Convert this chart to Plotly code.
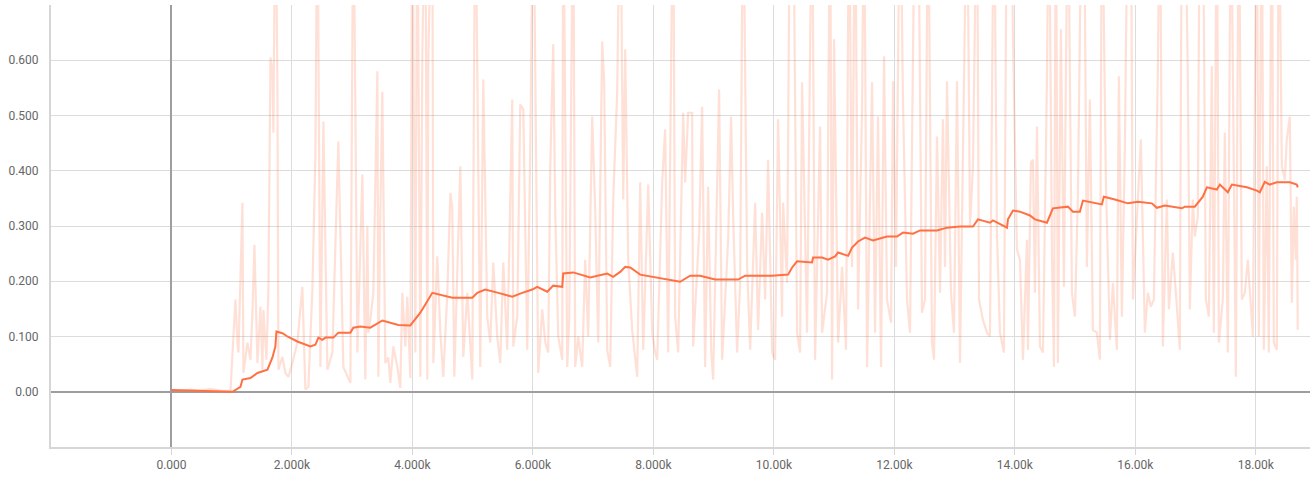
import plotly.graph_objects as go

# ---- raw (unsmoothed) series: training step / value ----
raw_steps = [0, 149, 315, 481, 647, 813, 979,
    1062, 1095, 1112, 1178, 1194, 1261, 1311, 1344, 1377, 1427, 1477, 1510, 1526, 1576, 1609, 1643, 1676, 1692, 1725, 1759, 1775, 1841, 1891, 1941, 2007, 2090, 2173, 2223, 2273, 2339, 2389, 2422, 2472, 2522, 2588, 2671, 2770, 2853, 2970, 3019, 3086, 3169, 3218, 3252, 3268,
    3301, 3351, 3418, 3434, 3467, 3500, 3550, 3600, 3633, 3683, 3749, 3799, 3832, 3882, 3915, 3965, 3998, 4048, 4081, 4131, 4164, 4214, 4247, 4264, 4330, 4347, 4413, 4463, 4512, 4579, 4629, 4662, 4695, 4745, 4795, 4844, 4911, 4994, 5043, 5126, 5176, 5242, 5292, 5342, 5408, 5458, 5508, 5574, 5657, 5674, 5740, 5790, 5840, 5906, 5956, 6006,
    6072, 6088, 6155, 6205, 6254, 6288, 6337, 6371, 6420, 6487, 6503, 6570, 6603, 6669, 6702, 6752, 6818, 6868, 6918, 6984, 7034, 7084, 7150, 7183, 7233, 7283, 7333, 7399, 7449, 7499, 7532, 7582, 7648, 7731, 7781, 7831, 7914, 7980, 8030, 8063, 8146, 8195, 8245, 8328, 8361, 8411, 8494, 8527, 8577, 8643, 8660, 8726, 8760,
    8809, 8859, 8909, 8959, 8992, 9058, 9091, 9141, 9191, 9241, 9290, 9324, 9390, 9440, 9489, 9556, 9606, 9689, 9738, 9805, 9855, 9904, 9971, 10020, 10070, 10136, 10153, 10219, 10269, 10319, 10385, 10435, 10468, 10551, 10634, 10684, 10767, 10800, 10883, 10933, 10966, 10999, 11066, 11132, 11198, 11248, 11298, 11348, 11397, 11464, 11497,
    11547, 11630, 11679, 11729, 11779, 11829, 11878, 11945, 11978, 12028, 12094, 12144, 12210, 12260, 12343, 12393, 12459, 12509, 12559, 12625, 12658, 12708, 12758, 12807, 12841, 12874, 12940, 12990, 13040, 13090, 13139, 13206, 13256, 13305, 13372, 13405, 13471, 13537, 13587, 13654, 13703, 13753, 13819, 13869, 13936, 13969, 14035, 14085, 14135, 14201,
    14218, 14267, 14301, 14334, 14367, 14417, 14467, 14533, 14566, 14616, 14649, 14682, 14715, 14765, 14815, 14881, 14948, 14997, 15047, 15113, 15147, 15196, 15246, 15296, 15362, 15412, 15445, 15512, 15578, 15628, 15694, 15727, 15777, 15827, 15877, 15926, 15960, 16026, 16092, 16159, 16208, 16258, 16308, 16374, 16408, 16457, 16524, 16557, 16623, 16690, 16739, 16773, 16822, 16872, 16905, 16955,
    16988, 17038, 17071, 17121, 17171, 17221, 17270, 17304, 17354, 17387, 17453, 17486, 17536, 17586, 17619, 17669, 17718, 17768, 17818, 17868, 17951, 17984, 18017, 18050, 18100, 18133, 18183, 18216, 18266, 18299, 18349, 18382, 18432, 18482, 18515, 18565, 18598, 18631, 18665, 18681, 18697]

raw_values = [0.003, 0.002, 0.004, 0.002, 0.005, 0.002, 0.001,
    0.167, 0.089, 0.071, 0.342, 0.034, 0.089, 0.058, 0.143, 0.266, 0.052, 0.154, 0.040, 0.148, 0.058, 0.185, 0.605, 0.580, 0.469, 0.950, 0.547, 0.040, 0.063, 0.034, 0.027, 0.052, 0.089, 0.190, 0.004, 0.009, 0.185, 0.426, 0.950, 0.045, 0.489, 0.040, 0.071, 0.453, 0.045, 0.016, 0.950, 0.071, 0.393, 0.022, 0.299, 0.107,
    0.130, 0.179, 0.580, 0.027, 0.321, 0.543, 0.052, 0.062, 0.016, 0.082, 0.045, 0.007, 0.179, 0.082, 0.172, 0.025, 0.950, 0.071, 0.950, 0.027, 0.607, 0.950, 0.022, 0.607, 0.950, 0.052, 0.245, 0.107, 0.027, 0.179, 0.360, 0.333, 0.027, 0.226, 0.408, 0.063, 0.179, 0.022, 0.950, 0.045, 0.565, 0.136, 0.089, 0.234, 0.100, 0.052, 0.234, 0.076, 0.529, 0.082, 0.136, 0.520, 0.511, 0.076, 0.438, 0.950,
    0.226, 0.034, 0.149, 0.089, 0.071, 0.408, 0.629, 0.324, 0.100, 0.058, 0.950, 0.045, 0.130, 0.950, 0.045, 0.100, 0.045, 0.239, 0.100, 0.498, 0.330, 0.089, 0.634, 0.560, 0.076, 0.045, 0.348, 0.542, 0.950, 0.348, 0.620, 0.239, 0.112, 0.027, 0.379, 0.076, 0.375, 0.107, 0.071, 0.058, 0.379, 0.475, 0.071, 0.950, 0.136, 0.071, 0.505, 0.379, 0.505, 0.505, 0.082, 0.226, 0.288,
    0.516, 0.045, 0.371, 0.076, 0.022, 0.420, 0.547, 0.058, 0.167, 0.275, 0.498, 0.317, 0.071, 0.197, 0.950, 0.226, 0.076, 0.342, 0.112, 0.324, 0.167, 0.420, 0.071, 0.058, 0.493, 0.136, 0.342, 0.197, 0.950, 0.950, 0.107, 0.071, 0.560, 0.107, 0.950, 0.058, 0.480, 0.107, 0.179, 0.950, 0.022, 0.638, 0.089, 0.226, 0.076, 0.950, 0.226, 0.950, 0.149, 0.511, 0.950,
    0.045, 0.560, 0.107, 0.498, 0.045, 0.607, 0.167, 0.125, 0.562, 0.226, 0.950, 0.523, 0.167, 0.107, 0.950, 0.950, 0.143, 0.167, 0.950, 0.089, 0.058, 0.462, 0.179, 0.493, 0.226, 0.562, 0.179, 0.107, 0.562, 0.052, 0.444, 0.950, 0.299, 0.408, 0.950, 0.167, 0.130, 0.107, 0.100, 0.950, 0.288, 0.107, 0.071, 0.950, 0.950, 0.638, 0.257, 0.239, 0.058, 0.275,
    0.076, 0.415, 0.420, 0.179, 0.480, 0.082, 0.071, 0.565, 0.950, 0.252, 0.045, 0.950, 0.052, 0.656, 0.190, 0.950, 0.179, 0.136, 0.353, 0.950, 0.950, 0.226, 0.529, 0.112, 0.107, 0.058, 0.950, 0.379, 0.094, 0.197, 0.076, 0.571, 0.136, 0.444, 0.950, 0.950, 0.167, 0.324, 0.457, 0.107, 0.179, 0.154, 0.167, 0.580, 0.950, 0.082, 0.348, 0.149, 0.252, 0.154, 0.076, 0.950, 0.950, 0.569, 0.149, 0.348,
    0.281, 0.317, 0.950, 0.950, 0.167, 0.136, 0.589, 0.107, 0.950, 0.089, 0.167, 0.469, 0.071, 0.950, 0.529, 0.027, 0.950, 0.167, 0.179, 0.239, 0.100, 0.553, 0.950, 0.100, 0.950, 0.076, 0.408, 0.071, 0.950, 0.089, 0.076, 0.950, 0.408, 0.384, 0.457, 0.498, 0.161, 0.335, 0.239, 0.353, 0.112]

# ---- smoothed series ----
smooth_steps = [0, 481, 1012, 1145, 1178, 1311, 1427, 1593, 1676, 1725, 1742, 1842, 1924, 2090, 2306, 2389, 2439, 2505, 2555, 2688, 2770, 2970, 3019, 3135, 3301, 3501, 3766, 3965, 4048, 4131, 4214, 4330, 4662, 4994, 5077, 5209, 5425, 5657, 5823, 5989, 6072, 6238, 6337, 6487, 6503, 6669, 6951, 7233, 7333, 7449, 7532, 7615, 7781, 8063, 8278, 8444, 8610, 8776, 9025, 9407, 9523, 9971, 10236, 10303, 10385, 10634, 10651, 10800, 10900, 11016, 11066, 11232, 11298, 11397, 11513, 11646, 11878, 12044, 12144, 12310, 12426, 12708, 12874, 13090, 13305, 13388, 13587, 13637, 13870, 13886, 13969, 14085, 14251, 14334, 14533, 14632, 14881, 14964, 15080, 15130, 15445, 15478, 15661, 15877, 16043, 16275, 16358, 16491, 16773, 16822, 16988, 17121, 17188, 17354, 17404, 17536, 17603, 17852, 18018, 18067, 18150, 18233, 18349, 18565, 18681, 18697]
smooth_values = [0.003, 0.001, 0.000, 0.009, 0.022, 0.025, 0.034, 0.040, 0.062, 0.082, 0.109, 0.106, 0.100, 0.091, 0.082, 0.085, 0.098, 0.094, 0.098, 0.098, 0.107, 0.107, 0.116, 0.118, 0.116, 0.129, 0.121, 0.120, 0.132, 0.143, 0.158, 0.179, 0.170, 0.170, 0.179, 0.185, 0.179, 0.172, 0.179, 0.185, 0.190, 0.181, 0.192, 0.190, 0.214, 0.216, 0.207, 0.214, 0.208, 0.217, 0.226, 0.225, 0.212, 0.207, 0.203, 0.199, 0.210, 0.210, 0.203, 0.203, 0.210, 0.210, 0.212, 0.225, 0.236, 0.234, 0.243, 0.243, 0.239, 0.245, 0.252, 0.246, 0.261, 0.272, 0.279, 0.274, 0.281, 0.281, 0.288, 0.286, 0.292, 0.292, 0.297, 0.299, 0.299, 0.312, 0.306, 0.310, 0.297, 0.312, 0.328, 0.326, 0.319, 0.312, 0.306, 0.332, 0.335, 0.326, 0.326, 0.346, 0.339, 0.353, 0.348, 0.341, 0.344, 0.341, 0.333, 0.337, 0.332, 0.335, 0.335, 0.353, 0.370, 0.366, 0.375, 0.361, 0.375, 0.370, 0.364, 0.361, 0.380, 0.375, 0.379, 0.379, 0.375, 0.370]

# ---- axis ticks ----
x_tick_vals = [0, 2000, 4000, 6000, 8000, 10000, 12000, 14000, 16000, 18000]
x_tick_text = ["0.000", "2.000k", "4.000k", "6.000k", "8.000k", "10.00k", "12.00k", "14.00k", "16.00k", "18.00k"]
y_tick_vals = [0.0, 0.1, 0.2, 0.3, 0.4, 0.5, 0.6, 0.7]
y_tick_text = ["0.00", "0.100", "0.200", "0.300", "0.400", "0.500", "0.600", ""]

ORANGE = "#ff7043"

fig = go.Figure()
fig.add_trace(go.Scatter(x=raw_steps, y=raw_values, mode="lines",
                         line=dict(color="rgba(255,112,67,0.22)", width=2.2),
                         hoverinfo="skip", showlegend=False))
fig.add_trace(go.Scatter(x=smooth_steps, y=smooth_values, mode="lines",
                         line=dict(color=ORANGE, width=2),
                         showlegend=False))

fig.update_layout(
    width=1312, height=480,
    margin=dict(l=51, r=2, t=5, b=33),
    paper_bgcolor="white", plot_bgcolor="white",
    font=dict(family="Roboto, sans-serif", size=12, color="#666"),
    xaxis=dict(range=[-2000, 18900], tickvals=x_tick_vals, ticktext=x_tick_text,
               showgrid=True, gridcolor="#dcdcdc", gridwidth=1,
               zeroline=True, zerolinecolor="#9e9e9e", zerolinewidth=2,
               showline=True, linecolor="#d6d6d6", linewidth=2,
               ticks="outside", ticklen=6, tickcolor="#d6d6d6", tickwidth=1,
               tickfont=dict(color="#666", size=12)),
    yaxis=dict(range=[-0.1, 0.7], tickvals=y_tick_vals, ticktext=y_tick_text,
               showgrid=True, gridcolor="#dcdcdc", gridwidth=1,
               zeroline=True, zerolinecolor="#9e9e9e", zerolinewidth=2,
               showline=True, linecolor="#d6d6d6", linewidth=2,
               ticks="", ticklabelstandoff=8,
               tickfont=dict(color="#666", size=12)),
)

fig.write_html("out.html", config={"displayModeBar": False})

# remove the browser's default page margin so the figure sits at (0, 0)
with open("out.html", "r", encoding="utf-8") as f:
    html = f.read()
html = html.replace("<head>", "<head><style>html,body{margin:0;padding:0;}</style>", 1)
with open("out.html", "w", encoding="utf-8") as f:
    f.write(html)
